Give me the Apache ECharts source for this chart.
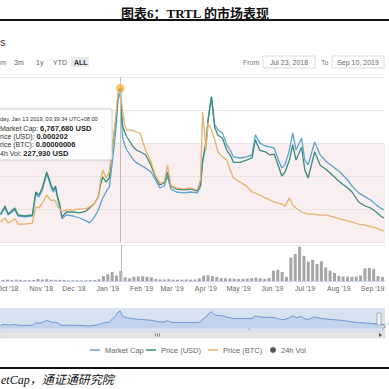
<!DOCTYPE html>
<html>
<head>
<meta charset="utf-8">
<script src="https://cdn.jsdelivr.net/npm/echarts@6/dist/echarts.min.js"></script>
<style>html,body{margin:0;padding:0;background:#fff}#c{width:389px;height:389px}</style>
</head>
<body>
<div id="c"></div>
<script>
// ---------- data ----------
const dates = ['2018-09-26','2018-09-30','2018-10-03','2018-10-09','2018-10-12','2018-10-18','2018-10-25','2018-10-28','2018-10-31',
'2018-11-03','2018-11-05','2018-11-07','2018-11-09','2018-11-11','2018-11-13','2018-11-15','2018-11-17','2018-11-19','2018-11-21','2018-11-25',
'2018-12-01','2018-12-07','2018-12-13','2018-12-16','2018-12-20','2018-12-24','2018-12-26','2018-12-28','2018-12-31',
'2019-01-03','2019-01-06','2019-01-09','2019-01-11','2019-01-13','2019-01-15','2019-01-17','2019-01-19','2019-01-22','2019-01-25','2019-01-28','2019-01-31',
'2019-02-05','2019-02-10','2019-02-14','2019-02-18','2019-02-22','2019-02-25','2019-02-28',
'2019-03-05','2019-03-12','2019-03-18','2019-03-24','2019-03-27','2019-03-29',
'2019-04-01','2019-04-03','2019-04-06','2019-04-09','2019-04-12','2019-04-16','2019-04-20','2019-04-23','2019-04-26',
'2019-05-02','2019-05-08','2019-05-13','2019-05-16','2019-05-20','2019-05-25','2019-05-29',
'2019-06-02','2019-06-06','2019-06-09','2019-06-12','2019-06-16','2019-06-19','2019-06-22','2019-06-27','2019-06-30',
'2019-07-03','2019-07-09','2019-07-14','2019-07-20','2019-07-26',
'2019-08-01','2019-08-08','2019-08-12','2019-08-18','2019-08-24','2019-08-29',
'2019-09-03','2019-09-07','2019-09-10'];

// Market cap, million USD
const marketCapM = [1.22,1.53,1.22,1.44,1.17,1.13,1.17,2.16,2.03,
2.34,2.70,3.06,2.79,2.48,2.25,2.43,1.94,1.53,1.04,1.22,
1.17,1.08,0.95,0.86,1.08,1.44,1.71,1.98,2.25,
2.48,3.69,5.04,6.39,6.77,4.73,4.37,4.14,3.92,3.69,3.56,3.47,
3.33,3.15,2.79,2.43,2.52,2.97,2.39,
2.25,2.21,2.25,2.21,2.48,3.60,
4.37,5.58,6.53,5.27,5.04,4.91,4.37,4.14,3.83,
3.78,3.83,3.92,4.82,4.46,4.32,4.28,
4.23,3.69,3.33,3.47,4.14,4.91,4.14,4.68,3.69,
3.47,4.50,3.92,3.60,3.38,
3.15,2.79,2.52,2.21,2.03,1.89,
1.67,1.53,1.44];

// Price in USD, micro-dollars (1e-6 USD)
const priceUsdMicro = [37.2,47.9,37.2,45.2,35.9,34.6,35.9,66.5,62.5,
71.8,82.5,93.1,85.1,75.8,69.2,74.5,59.9,49.2,33.3,39.9,
39.9,38.6,41.2,45.2,50.5,59.9,75.8,86.5,79.8,
85.1,129,162,196,202,156,146,140,133,126,122,120,
116,102,86.5,75.8,78.5,93.1,74.5,
70.5,69.2,70.5,67.8,75.8,109,
133,162,193,152,142,138,122,116,106,
106,109,112,136,122,120,116,
117,101,87.8,93.1,109,129,109,126,95.8,
85.1,120,102,95.8,87.8,
79.8,71.8,66.5,53.2,47.9,45.2,
39.9,34.6,31.9];

// Price in BTC, satoshi (1e-8 BTC)
const priceBtcSat = [0.78,0.94,0.74,0.90,0.70,0.70,0.74,1.37,1.33,
1.52,1.68,1.83,1.72,1.60,1.64,1.60,1.37,1.29,1.17,1.25,
1.25,1.29,1.29,1.37,1.48,1.76,2.42,2.81,2.50,
2.73,3.78,4.95,5.85,6.00,5.15,4.56,4.37,4.37,4.33,4.29,4.25,
3.59,3.12,2.61,2.30,2.34,3.00,2.22,
2.11,2.07,2.11,2.03,2.42,5.07,
3.59,4.64,4.37,3.98,3.51,3.32,3.20,2.81,2.50,
2.34,2.18,1.95,1.91,1.83,1.72,1.64,
1.56,1.52,1.48,1.40,1.72,1.44,1.33,1.17,1.13,
1.09,1.09,1.05,1.05,0.98,
0.90,0.82,0.78,0.70,0.66,0.59,
0.55,0.47,0.43];

// 24h volume, thousand USD, one bar every 4 days from volStart
const volStart = [2018, 8, 27];
const volStepDays = 4;
const volK = [25,30,25,35,25,20,20,25,45,35,
40,30,25,25,20,15,15,15,15,15,
20,25,40,110,150,200,120,228,80,60,
95,100,105,95,80,45,35,35,40,30,
30,30,35,30,35,60,120,130,110,90,
65,60,55,50,45,50,55,60,70,60,
50,70,230,250,200,90,520,600,760,560,
430,470,380,440,300,230,180,110,100,95,
90,100,120,280,290,270,110,90];

const monthNames = ['Jan','Feb','Mar','Apr','May','Jun','Jul','Aug','Sep','Oct','Nov','Dec'];
const navMonths = [0, 4, 8];
const seriesNames = ['Market Cap','Price (USD)','Price (BTC)','24h Vol'];
const hoverDate = '2019-01-13';
const tooltipLines = [
  ['day, Jan 13 2019, 03:39:34 UTC+08:00', ''],
  ['Market Cap: ', '6,767,680 USD'],
  ['rice (USD): ', '0.000202'],
  ['rice (BTC): ', '0.00000006'],
  ['4h Vol: ', '227,930 USD']
];

// ---------- helpers ----------
function ts(s){ const p = s.split('-').map(Number); return new Date(p[0], p[1]-1, p[2]).getTime(); }
const DAY = 86400000;
const tMin = new Date(2018, 8, 25, 12).getTime();
const tMax = new Date(2019, 8, 11, 0).getTime();
const zip = (vals) => dates.map((d, i) => [ts(d), vals[i]]);
const volData = volK.map((v, i) => [new Date(volStart[0], volStart[1], volStart[2] + i*volStepDays).getTime(), v]);
const hoverT = ts(hoverDate);
const hi = dates.indexOf(hoverDate);
const monthLabel = (v) => { const d = new Date(v); return monthNames[d.getMonth()] + " '" + String(d.getFullYear()).slice(2); };

const FONT = '"Liberation Sans", Arial, sans-serif';
const C_MCAP = '#5ba3d0', C_USD = '#3a8c7c', C_BTC = '#e5b36c', C_VOL = '#a6a6a6';

const timeAxisBase = {
  type: 'time', min: tMin, max: tMax, splitNumber: 12,
  minInterval: 28*DAY, maxInterval: 31*DAY,
  splitLine: {show: false}, axisTick: {show: false}
};

const chart = echarts.init(document.getElementById('c'), null, {renderer: 'svg', width: 389, height: 389});

const crossLine = {
  silent: true, symbol: ['none','none'], label: {show: false},
  lineStyle: {color: '#bdbdbd', width: 1, type: 'solid'},
  data: [{xAxis: hoverT}]
};

function hoverMark(color, val, size){
  return {silent: true, symbol: 'circle', symbolSize: size, label: {show: false},
    itemStyle: {color: color, opacity: 0.75, borderColor: '#fff', borderWidth: 0.5},
    data: [{coord: [hoverT, val]}]};
}

const legendText = {fontSize: 7.5, color: '#666', fontFamily: FONT};
const legendAt = [90, 146, 208, 270];
const legends = seriesNames.map((n, i) => (i < 3
  ? {data: [n], left: legendAt[i], top: 346, padding: 0, icon: 'rect', itemWidth: 10, itemHeight: 1.5,
      itemTextGap: 3, selectedMode: false, textStyle: legendText}
  : {data: [{name: n, itemStyle: {color: '#555'}}], left: legendAt[i], top: 346, padding: 0, icon: 'circle',
      itemWidth: 6, itemHeight: 6, itemTextGap: 3, selectedMode: false, textStyle: legendText}));

const option = {
  animation: false,
  backgroundColor: '#ffffff',
  textStyle: {fontFamily: FONT},
  grid: [
    {left: 0, right: 4, top: 77, height: 165, outerBoundsMode: 'none', containLabel: false},
    {left: 0, right: 4, top: 245, height: 36, outerBoundsMode: 'none', containLabel: false},
    {left: 0, right: 4, top: 308, height: 24, show: true, backgroundColor: '#d8e2f1', borderWidth: 0, outerBoundsMode: 'none', containLabel: false}
  ],
  xAxis: [
    Object.assign({}, timeAxisBase, {gridIndex: 0, axisLine: {show: false}, axisLabel: {show: false}}),
    Object.assign({}, timeAxisBase, {gridIndex: 1,
      axisLine: {show: true, lineStyle: {color: '#ccd6eb', width: 1}},
      axisLabel: {show: true, fontSize: 7, color: '#666', margin: 4, fontFamily: FONT,
        showMinLabel: false, showMaxLabel: false, hideOverlap: false, formatter: monthLabel}}),
    Object.assign({}, timeAxisBase, {gridIndex: 2, axisLine: {show: false},
      axisLabel: {show: true, inside: true, align: 'left', fontSize: 6.5, color: '#6a6a6a', margin: 3, fontFamily: FONT,
        showMinLabel: false, showMaxLabel: false, hideOverlap: false,
        formatter: (v) => { const d = new Date(v); return (d.getDate() === 1 && navMonths.indexOf(d.getMonth()) >= 0) ? monthLabel(v) : ''; }}})
  ],
  yAxis: [
    {gridIndex: 0, type: 'value', min: 0, max: 7.425, interval: 1.485,
      axisLine: {show: false}, axisTick: {show: false}, axisLabel: {show: false},
      splitLine: {show: true, lineStyle: {color: '#ebe4e6', width: 1}},
      splitArea: {show: true, areaStyle: {color: ['#f9eff1','#f9eff1','#f9eff1','rgba(255,255,255,0)','rgba(255,255,255,0)']}}},
    {gridIndex: 0, type: 'value', min: 0, max: 219.45, show: false},
    {gridIndex: 0, type: 'value', min: 0, max: 6.435, show: false},
    {gridIndex: 1, type: 'value', min: 0, max: 800, interval: 800,
      axisLine: {show: false}, axisTick: {show: false}, axisLabel: {show: false},
      splitLine: {show: true, lineStyle: {color: '#eeeeee', width: 1}}},
    {gridIndex: 2, type: 'value', min: -1.5, max: 8, show: false}
  ],
  legend: legends,
  series: [
    {name: seriesNames[0], type: 'line', xAxisIndex: 0, yAxisIndex: 0, data: zip(marketCapM), showSymbol: false,
      color: C_MCAP, lineStyle: {color: C_MCAP, width: 1.3}, z: 3,
      markPoint: hoverMark(C_MCAP, marketCapM[hi], 5)},
    {name: seriesNames[1], type: 'line', xAxisIndex: 0, yAxisIndex: 1, data: zip(priceUsdMicro), showSymbol: false,
      color: C_USD, lineStyle: {color: C_USD, width: 1.3}, z: 3,
      markPoint: hoverMark(C_USD, priceUsdMicro[hi], 5)},
    {name: seriesNames[2], type: 'line', xAxisIndex: 0, yAxisIndex: 2, data: zip(priceBtcSat), showSymbol: false,
      color: C_BTC, lineStyle: {color: C_BTC, width: 1.3}, z: 3,
      markLine: crossLine, markPoint: hoverMark('#f0b040', priceBtcSat[hi], 9)},
    {name: seriesNames[3], type: 'bar', xAxisIndex: 1, yAxisIndex: 3, data: volData, barWidth: 3,
      color: C_VOL, itemStyle: {color: C_VOL}, markLine: crossLine},
    {name: 'navigator', type: 'line', xAxisIndex: 2, yAxisIndex: 4, data: zip(marketCapM), showSymbol: false, silent: true,
      lineStyle: {color: '#6d98cf', width: 1}, areaStyle: {color: '#c3d3eb', opacity: 1}}
  ],
  graphic: [
    // title + rule
    {type: 'text', x: 195, y: 13, z: 10, style: {text: '图表6：TRTL 的市场表现', fill: '#111', fontSize: 13, fontWeight: 'bold',
      fontFamily: '"Liberation Serif", "Noto Sans CJK SC", serif', align: 'center', textAlign: 'center', verticalAlign: 'middle', textVerticalAlign: 'middle'}},
    {type: 'rect', shape: {x: 0, y: 19, width: 389, height: 2}, style: {fill: '#111'}, z: 10},
    // cropped chart title
    {type: 'text', x: 0, y: 42, z: 10, style: {text: 's', fill: '#333', fontSize: 11, fontFamily: FONT, verticalAlign: 'middle', textVerticalAlign: 'middle'}},
    // range selector
    {type: 'rect', shape: {x: 71, y: 57, width: 18, height: 10, r: 1}, style: {fill: '#e6e9ee'}, z: 9},
    {type: 'text', x: 0, y: 62, z: 10, style: {text: 'm', fill: '#666', fontSize: 7, fontFamily: FONT, verticalAlign: 'middle', textVerticalAlign: 'middle'}},
    {type: 'text', x: 14, y: 62, z: 10, style: {text: '3m', fill: '#666', fontSize: 7, fontFamily: FONT, verticalAlign: 'middle', textVerticalAlign: 'middle'}},
    {type: 'text', x: 36, y: 62, z: 10, style: {text: '1y', fill: '#666', fontSize: 7, fontFamily: FONT, verticalAlign: 'middle', textVerticalAlign: 'middle'}},
    {type: 'text', x: 53, y: 62, z: 10, style: {text: 'YTD', fill: '#666', fontSize: 7, fontFamily: FONT, verticalAlign: 'middle', textVerticalAlign: 'middle'}},
    {type: 'text', x: 74, y: 62, z: 10, style: {text: 'ALL', fill: '#333', fontSize: 7, fontWeight: 'bold', fontFamily: FONT, verticalAlign: 'middle', textVerticalAlign: 'middle'}},
    {type: 'text', x: 243, y: 62, z: 10, style: {text: 'From', fill: '#777', fontSize: 7, fontFamily: FONT, verticalAlign: 'middle', textVerticalAlign: 'middle'}},
    {type: 'rect', shape: {x: 263, y: 56, width: 52, height: 12}, style: {fill: '#fff', stroke: '#dcdcdc', lineWidth: 1}, z: 9},
    {type: 'text', x: 289, y: 62, z: 10, style: {text: 'Jul 23, 2018', fill: '#666', fontSize: 7, fontFamily: FONT, align: 'center', textAlign: 'center', verticalAlign: 'middle', textVerticalAlign: 'middle'}},
    {type: 'text', x: 321, y: 62, z: 10, style: {text: 'To', fill: '#777', fontSize: 7, fontFamily: FONT, verticalAlign: 'middle', textVerticalAlign: 'middle'}},
    {type: 'rect', shape: {x: 332, y: 56, width: 52, height: 12}, style: {fill: '#fff', stroke: '#dcdcdc', lineWidth: 1}, z: 9},
    {type: 'text', x: 358, y: 62, z: 10, style: {text: 'Sep 10, 2019', fill: '#666', fontSize: 7, fontFamily: FONT, align: 'center', textAlign: 'center', verticalAlign: 'middle', textVerticalAlign: 'middle'}},
    // tooltip box
    {type: 'rect', shape: {x: -3, y: 109, width: 115, height: 51, r: 2}, style: {fill: 'rgba(255,255,255,0.92)', stroke: '#c8c8c8', lineWidth: 0.8, shadowBlur: 3, shadowColor: 'rgba(0,0,0,0.12)'}, z: 20},
    {type: 'text', x: 0, y: 119, z: 21, style: {text: tooltipLines[0][0], fill: '#333', fontSize: 5.6, fontFamily: FONT, verticalAlign: 'middle', textVerticalAlign: 'middle'}},
    ...tooltipLines.slice(1).map((l, i) => ({type: 'text', x: 0, y: 128 + i*8.4, z: 21, style: {
      text: '{n|' + l[0] + '}{b|' + l[1] + '}', verticalAlign: 'middle', textVerticalAlign: 'middle',
      rich: {n: {fontSize: 7, fill: '#333', color: '#333', fontFamily: FONT}, b: {fontSize: 7.5, fontWeight: 'bold', fill: '#222', color: '#222', fontFamily: FONT}}}})),
    // navigator handle + scrollbar
    {type: 'rect', shape: {x: 377, y: 313, width: 4, height: 12}, style: {fill: '#f2f2f2', stroke: '#999', lineWidth: 0.7}, z: 10},
    {type: 'rect', shape: {x: 0, y: 332, width: 385, height: 6}, style: {fill: '#e4e4e4', stroke: '#d0d0d0', lineWidth: 0.5}, z: 10},
    {type: 'rect', shape: {x: 155, y: 333.5, width: 0.7, height: 3}, style: {fill: '#555'}, z: 11},
    {type: 'rect', shape: {x: 157, y: 333.5, width: 0.7, height: 3}, style: {fill: '#555'}, z: 11},
    {type: 'rect', shape: {x: 159, y: 333.5, width: 0.7, height: 3}, style: {fill: '#555'}, z: 11},
    {type: 'polygon', shape: {points: [[379,333],[382,335],[379,337]]}, style: {fill: '#555'}, z: 11},
    // bottom rule + source
    {type: 'rect', shape: {x: 0, y: 367, width: 389, height: 2}, style: {fill: '#111'}, z: 10},
    {type: 'text', x: 1, y: 380, z: 10, style: {text: 'etCap，通证通研究院', fill: '#111', fontSize: 12, fontStyle: 'italic',
      fontFamily: '"Liberation Serif", "Noto Sans CJK SC", serif', verticalAlign: 'middle', textVerticalAlign: 'middle'}}
  ]
};
chart.setOption(option);
</script>
</body>
</html>
